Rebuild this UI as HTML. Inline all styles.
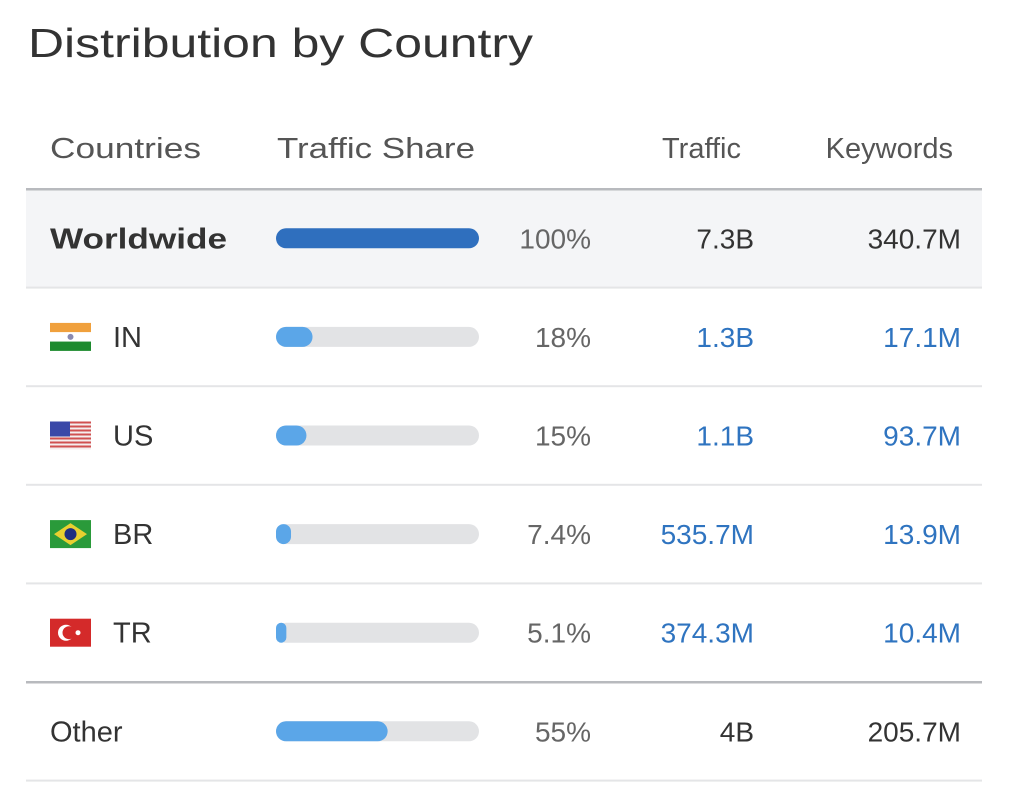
<!DOCTYPE html>
<html><head><meta charset="utf-8"><style>
html,body{margin:0;padding:0;background:#fff;width:1024px;height:800px;overflow:hidden}
svg{display:block;font-family:"Liberation Sans",sans-serif}
</style></head><body>
<svg id="chart" width="1024" height="800" viewBox="0 0 1024 800">
<text x="28" y="57" font-size="41" fill="#333" textLength="505" lengthAdjust="spacingAndGlyphs">Distribution by Country</text>
<g>
<text x="50" y="158" font-size="29" fill="#555" textLength="151" lengthAdjust="spacingAndGlyphs">Countries</text>
<text x="277" y="158" font-size="29" fill="#555" textLength="198" lengthAdjust="spacingAndGlyphs">Traffic Share</text>
<text x="741" y="158" font-size="29" fill="#555" text-anchor="end">Traffic</text>
<text x="953" y="158" font-size="29" fill="#555" text-anchor="end">Keywords</text>
</g>
<g id="rows"></g>
</svg>
<script>
const countries = ["Worldwide","IN","US","BR","TR","Other"];
const shares = [100, 18, 15, 7.4, 5.1, 55];
const shareLabels = ["100%","18%","15%","7.4%","5.1%","55%"];
const trafficLabels = ["7.3B","1.3B","1.1B","535.7M","374.3M","4B"];
const keywordLabels = ["340.7M","17.1M","93.7M","13.9M","10.4M","205.7M"];

const NS = "http://www.w3.org/2000/svg";
const g = document.getElementById("rows");
const rowTop = 189, rowH = 98.6, trackX = 276, trackW = 203, barH = 20;
function xScale(v){ return trackW * v / 100; }
function mk(tag, attrs, parent){ const e=document.createElementNS(NS,tag); for(const k in attrs) e.setAttribute(k,attrs[k]); (parent||g).appendChild(e); return e; }

function flag(code, x, y, parent){
  const w=41,h=28;
  if(code==="IN"){
    mk("rect",{x,y,width:w,height:h/3,fill:"#f0a03c"},parent);
    mk("rect",{x,y:y+h/3,width:w,height:h/3,fill:"#fff"},parent);
    mk("rect",{x,y:y+2*h/3,width:w,height:h/3,fill:"#1d8a2e"},parent);
    mk("circle",{cx:x+w/2,cy:y+h/2,r:3,fill:"#8a8ab0"},parent);
  } else if(code==="US"){
    for(let i=0;i<7;i++) mk("rect",{x,y:y+i*4,width:w,height:2,fill:"#d05050"},parent);
    for(let i=0;i<7;i++) mk("rect",{x,y:y+i*4+2,width:w,height:2,fill:"#f5eeee"},parent);
    mk("rect",{x,y,width:20,height:15,fill:"#3a48a8"},parent);
  } else if(code==="BR"){
    mk("rect",{x,y,width:w,height:h,fill:"#2a9a3a"},parent);
    mk("polygon",{points:`${x+4},${y+h/2} ${x+w/2},${y+3} ${x+w-4},${y+h/2} ${x+w/2},${y+h-3}`,fill:"#e8d030"},parent);
    mk("circle",{cx:x+w/2,cy:y+h/2,r:6,fill:"#1e2e80"},parent);
  } else if(code==="TR"){
    mk("rect",{x,y,width:w,height:h,fill:"#d42a2a"},parent);
    mk("circle",{cx:x+16,cy:y+h/2,r:8,fill:"#fff"},parent);
    mk("circle",{cx:x+19,cy:y+h/2,r:6.5,fill:"#d42a2a"},parent);
    mk("circle",{cx:x+28,cy:y+h/2,r:2.5,fill:"#fff"},parent);
  }
}

countries.forEach((c,i)=>{
  const y0 = rowTop + i*rowH, cy = y0 + rowH/2;
  const row = mk("g",{});
  
  
  if(i===0){
    const bg = mk("rect",{x:26,y:y0,width:956,height:rowH,fill:"#f4f5f7"},row);
    
    
  }
  const isFlag = i>0 && i<5;
  if(isFlag){
    const fg = mk("g",{},row);
    
    
    flag(c, 50, cy-14, fg);
  }
  const name = mk("text",{x:isFlag?113:50,y:cy+10,"font-size":29,fill:"#333","font-weight":i===0?"bold":"normal"},row);
  if(i===0){ name.setAttribute("textLength","177"); name.setAttribute("lengthAdjust","spacingAndGlyphs"); }
  name.textContent = c;
  
  
  const track = mk("rect",{x:trackX,y:cy-barH/2,width:trackW,height:barH,rx:10,fill:i===0?"#2f6fbe":"#e2e3e5"},row);
  
  
  if(i>0){
    const bw = Math.max(xScale(shares[i]), 8);
    const bar = mk("rect",{x:trackX,y:cy-barH/2,width:bw,height:barH,rx:Math.min(10,bw/2),fill:"#5ba6e8"},row);
    
    
  }
  const pct = mk("text",{x:591,y:cy+10,"font-size":28,fill:"#666","text-anchor":"end"},row);
  pct.textContent = shareLabels[i];
  
  
  const link = isFlag ? "#2f74c0" : "#333";
  const tr = mk("text",{x:754,y:cy+10,"font-size":28,fill:link,"text-anchor":"end"},row);
  tr.textContent = trafficLabels[i];
  
  
  const kw = mk("text",{x:961,y:cy+10,"font-size":28,fill:link,"text-anchor":"end"},row);
  kw.textContent = keywordLabels[i];
  
  
});
for(let i=0;i<=countries.length;i++){
  const y = rowTop + i*rowH;
  const strong = (i===0 || i===5);
  const ln = mk("rect",{x:26,y:y-1,width:956,height:strong?2.5:2,fill:strong?"#b8babe":"#e4e5e7"});
  
  
}
</script>
</body></html>
